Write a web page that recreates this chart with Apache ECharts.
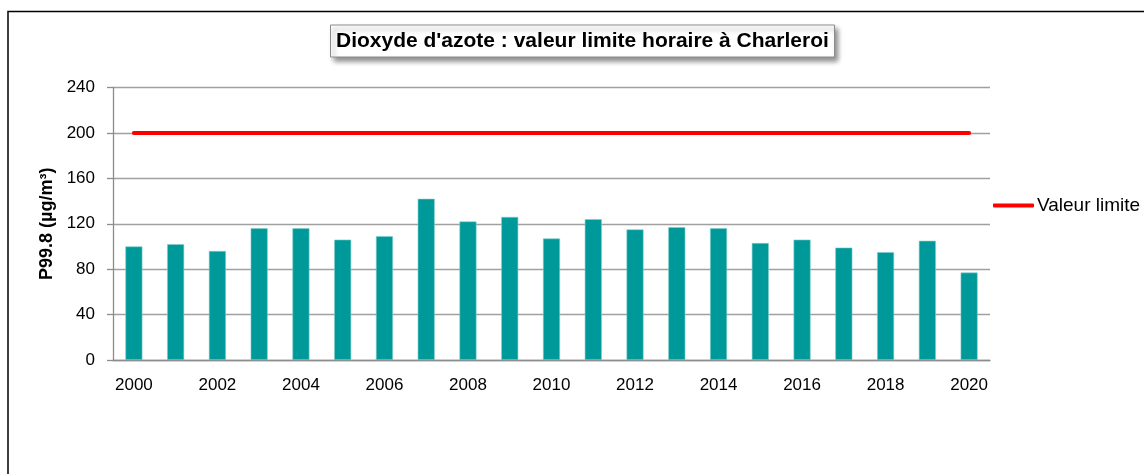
<!DOCTYPE html>
<html>
<head>
    <meta charset="UTF-8">
    <title>Dioxyde d'azote : valeur limite horaire à Charleroi</title>
    <script src="https://cdn.jsdelivr.net/npm/echarts@6/dist/echarts.min.js"></script>
    <style>
        html, body { margin: 0; padding: 0; background: #fff; }
        #chart { width: 1144px; height: 474px; }
    </style>
</head>
<body>
    <div id="chart"></div>
<script type="text/javascript">
    // années
    var years = ['2000','2001','2002','2003','2004','2005','2006','2007','2008','2009','2010',
                 '2011','2012','2013','2014','2015','2016','2017','2018','2019','2020'];
    // P99.8 mesuré (µg/m³)
    var p998 = [100, 102, 96, 116, 116, 106, 109, 142, 122, 126, 107,
                124, 115, 117, 116, 103, 106, 99, 95, 105, 77];
    // valeur limite horaire
    var limite = [200, 200, 200, 200, 200, 200, 200, 200, 200, 200, 200,
                  200, 200, 200, 200, 200, 200, 200, 200, 200, 200];

    var font = 'Liberation Sans';
    var gridColor = '#a0a0a0';

    var option = {
        animation: false,
        title: {
            text: "Dioxyde d'azote : valeur limite horaire à Charleroi",
            left: 330,
            top: 24.5,
            padding: [6, 6],
            backgroundColor: '#fff',
            borderColor: '#8c8c8c',
            borderWidth: 1,
            shadowColor: 'rgba(0,0,0,0.45)',
            shadowBlur: 5,
            shadowOffsetX: 3,
            shadowOffsetY: 4,
            textStyle: {
                fontFamily: font,
                fontWeight: 'bold',
                fontSize: 21,
                color: '#000'
            }
        },
        legend: {
            data: [{ name: 'Valeur limite', icon: 'roundRect' }],
            left: 993,
            top: 196,
            padding: 0,
            itemWidth: 41,
            itemHeight: 4,
            itemGap: 4,
            textStyle: { fontFamily: font, fontSize: 19, color: '#000', padding: [0, 0, 0, -2] }
        },
        grid: {
            left: 113,
            right: 154,
            top: 87.5,
            bottom: 114
        },
        xAxis: {
            type: 'category',
            data: years,
            axisLine: { lineStyle: { color: '#8c8c8c', width: 1.3 } },
            axisTick: { interval: 0, length: 6, lineStyle: { color: '#8c8c8c', width: 1.3 } },
            axisLabel: {
                interval: 1,
                margin: 17,
                fontFamily: font,
                fontSize: 17,
                color: '#000'
            }
        },
        yAxis: {
            type: 'value',
            min: 0,
            max: 240,
            interval: 40,
            name: 'P99.8 (µg/m³)',
            nameLocation: 'middle',
            nameGap: 56,
            nameTextStyle: { fontFamily: font, fontWeight: 'bold', fontSize: 18, color: '#000' },
            axisLine: { show: true, lineStyle: { color: '#8c8c8c', width: 1.3 } },
            axisTick: { show: true, length: 6, lineStyle: { color: '#8c8c8c', width: 1.3 } },
            axisLabel: {
                margin: 18,
                fontFamily: font,
                fontSize: 17,
                color: '#000'
            },
            splitLine: { lineStyle: { color: gridColor, width: 1.3 } }
        },
        series: [
            {
                name: 'P99.8',
                type: 'bar',
                data: p998,
                barWidth: 17,
                itemStyle: {
                    color: '#009999',
                    borderColor: '#7fcccc',
                    borderWidth: 0.6
                }
            },
            {
                name: 'Valeur limite',
                type: 'line',
                data: limite,
                symbol: 'none',
                lineStyle: { color: '#ff0000', width: 4, cap: 'round' },
                itemStyle: { color: '#ff0000' }
            }
        ],
        graphic: [
            {
                type: 'rect',
                silent: true,
                z: -1,
                shape: { x: 8, y: 11.5, width: 1200, height: 520 },
                style: { fill: 'none', stroke: '#000', lineWidth: 1.5 }
            }
        ]
    };
    echarts.init(document.getElementById('chart')).setOption(option);
</script>
</body>
</html>
